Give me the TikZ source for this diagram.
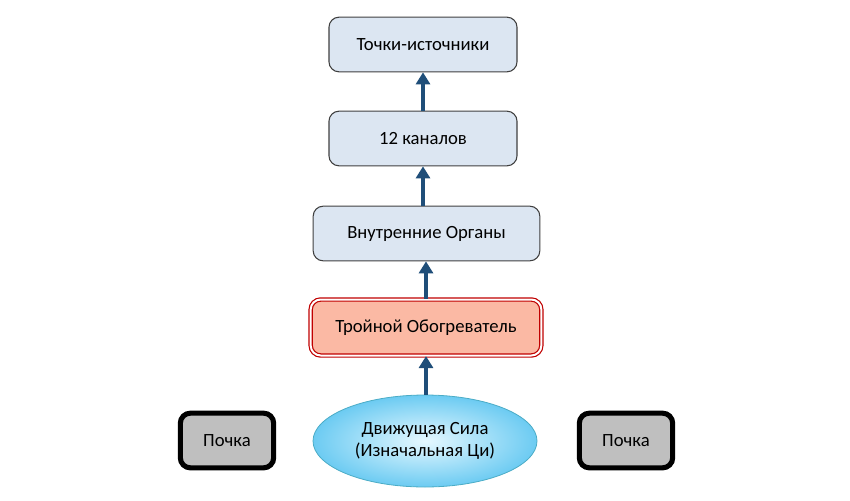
\documentclass[tikz,border=0pt]{standalone}
\usepackage{fontspec}
\setmainfont{Carlito}
\usetikzlibrary{arrows.meta,shapes.geometric,shadings}
\definecolor{boxfill}{HTML}{DCE6F2}
\definecolor{boxline}{HTML}{404040}
\definecolor{heatfill}{HTML}{FBB9A4}
\definecolor{heatline}{HTML}{C00000}
\definecolor{arrowblue}{HTML}{1F4E79}
\definecolor{ellline}{HTML}{4BACC6}
\definecolor{ellout}{HTML}{6CCBF2}
\definecolor{ellin}{HTML}{E6F8FF}
\tikzset{
  organ/.style={draw=boxline, fill=boxfill, rounded corners=7.5pt, line width=0.8pt,
    minimum height=41pt, font=\fontsize{14}{17}\selectfont},
  heater/.style={draw=heatline, double=white, double distance=1.5pt, line width=0.9pt,
    fill=heatfill, rounded corners=7.5pt, minimum width=173pt, minimum height=42pt,
    font=\fontsize{14}{17}\selectfont},
  kidney/.style={draw=black, line width=3.8pt, fill=black!25, rounded corners=7.5pt,
    minimum width=70pt, minimum height=41pt, font=\fontsize{14}{17}\selectfont},
  drive/.style={ellipse, draw=ellline, line width=0.6pt, inner color=ellin, outer color=ellout,
    minimum width=168pt, minimum height=69pt, align=center,
    font=\fontsize{14}{17}\selectfont},
  up/.style={draw=arrowblue, line width=3.6pt, -{Triangle[length=9pt,width=10.5pt]}}
}
\begin{document}
\begin{tikzpicture}[x=0.75pt,y=-0.75pt]
\useasboundingbox (0,0) rectangle (850,500);
% nodes
\node[organ, minimum width=141pt] (points) at (423,44.5) {Точки-источники};
\node[organ, minimum width=141pt] (channels) at (423,138.5) {12 каналов};
\node[organ, minimum width=170pt] (organs) at (426.5,233.5) {Внутренние Органы};
\node[heater] (burner) at (426,327.5) {Тройной Обогреватель};
\node[drive] (qi) at (425,441) {Движущая Сила\\(Изначальная Ци)};
\node[kidney] (kidL) at (227,440.5) {Почка};
\node[kidney] (kidR) at (626,440.5) {Почка};
% arrows
\draw[up] (qi.north -| burner.south) -- (burner.south);
\draw[up] (burner.north) -- (burner.north |- organs.south);
\draw[up] (organs.north -| channels.south) -- (channels.south);
\draw[up] (channels.north) -- (points.south);
\end{tikzpicture}
\end{document}
